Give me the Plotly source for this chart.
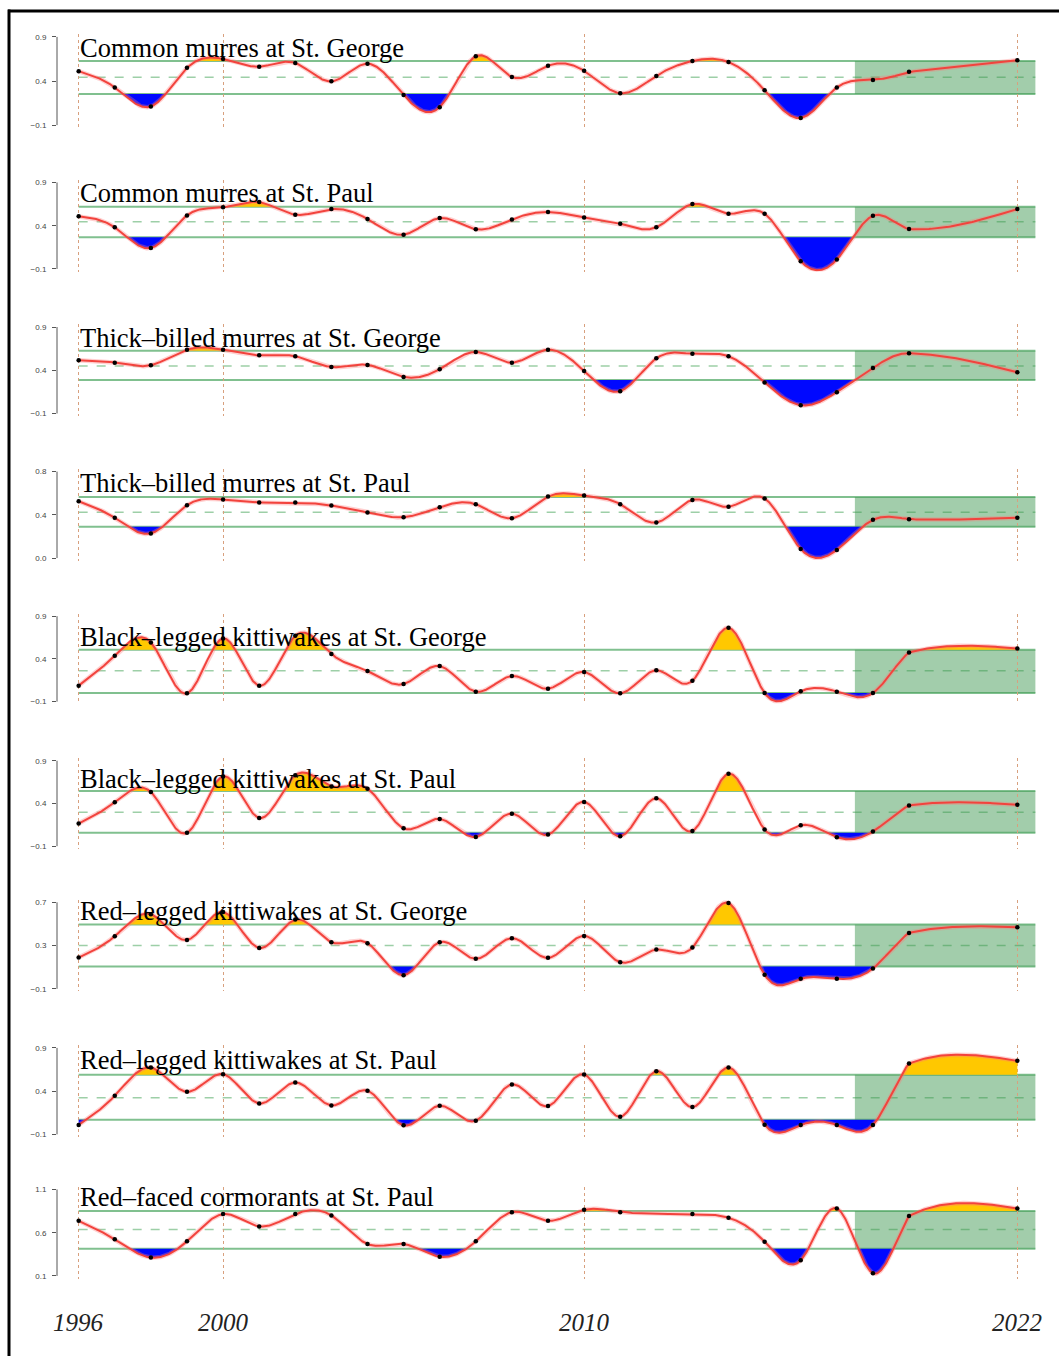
import numpy as np
import plotly.graph_objects as go

# ---------------------------------------------------------------- data
YEARS = [1996, 1997, 1998, 1999, 2000, 2001, 2002, 2003, 2004, 2005, 2006, 2007,
         2008, 2009, 2010, 2011, 2012, 2013, 2014, 2015, 2016, 2017, 2018, 2019, 2022]

TITLES = [
    "Common murres at St. George",
    "Common murres at St. Paul",
    "Thick\u2013billed murres at St. George",
    "Thick\u2013billed murres at St. Paul",
    "Black\u2013legged kittiwakes at St. George",
    "Black\u2013legged kittiwakes at St. Paul",
    "Red\u2013legged kittiwakes at St. George",
    "Red\u2013legged kittiwakes at St. Paul",
    "Red\u2013faced cormorants at St. Paul",
]

COMU_STG = [0.512, 0.327, 0.112, 0.550, 0.650, 0.562, 0.604, 0.396, 0.596, 0.242, 0.104, 0.681,
            0.446, 0.573, 0.515, 0.262, 0.458, 0.627, 0.615, 0.296, -0.019, 0.327, 0.412, 0.504, 0.635]
COMU_STP = [0.508, 0.381, 0.142, 0.519, 0.612, 0.673, 0.527, 0.592, 0.477, 0.296, 0.488, 0.358,
            0.473, 0.558, 0.496, 0.423, 0.381, 0.650, 0.538, 0.538, -0.012, 0.008, 0.515, 0.362, 0.592]
TBMU_STG = [0.515, 0.488, 0.458, 0.638, 0.638, 0.573, 0.562, 0.438, 0.462, 0.323, 0.412, 0.612,
            0.488, 0.638, 0.392, 0.158, 0.538, 0.592, 0.562, 0.258, -0.004, 0.146, 0.427, 0.596, 0.377]
TBMU_STP = [0.526, 0.372, 0.228, 0.489, 0.542, 0.514, 0.514, 0.486, 0.422, 0.378, 0.471, 0.498,
            0.369, 0.569, 0.578, 0.498, 0.329, 0.538, 0.474, 0.551, 0.083, 0.074, 0.354, 0.360, 0.372]
BLKI_STG = [0.087, 0.437, 0.593, -0.003, 0.639, 0.087, 0.670, 0.456, 0.258, 0.106, 0.316, 0.017,
            0.200, 0.052, 0.246, -0.003, 0.266, 0.145, 0.764, 0.001, 0.021, 0.017, 0.001, 0.476, 0.523]
BLKI_STP = [0.165, 0.414, 0.534, 0.056, 0.717, 0.231, 0.730, 0.600, 0.573, 0.110, 0.219, 0.009,
            0.281, 0.036, 0.418, 0.017, 0.460, 0.079, 0.748, 0.095, 0.145, 0.005, 0.071, 0.375, 0.386]
RLKI_STG = [0.189, 0.386, 0.590, 0.352, 0.610, 0.278, 0.540, 0.331, 0.322, 0.026, 0.331, 0.177,
            0.368, 0.186, 0.389, 0.146, 0.263, 0.282, 0.694, 0.029, -0.008, -0.008, 0.088, 0.417, 0.469]
RLKI_STP = [0.008, 0.346, 0.673, 0.392, 0.596, 0.258, 0.500, 0.235, 0.404, 0.004, 0.231, 0.058,
            0.477, 0.227, 0.592, 0.104, 0.631, 0.215, 0.673, 0.012, 0.008, 0.008, 0.008, 0.719, 0.750]
RFCO_STP = [0.738, 0.523, 0.312, 0.500, 0.815, 0.673, 0.815, 0.800, 0.469, 0.469, 0.323, 0.500,
            0.838, 0.738, 0.865, 0.838, None, 0.815, 0.773, 0.496, 0.281, 0.881, 0.131, 0.792, 0.881]

SERIES = [COMU_STG, COMU_STP, TBMU_STG, TBMU_STP, BLKI_STG, BLKI_STP, RLKI_STG, RLKI_STP, RFCO_STP]

# long-term mean and the +/- band drawn as green reference lines
UPPER = [0.627, 0.619, 0.627, 0.566, 0.507, 0.546, 0.494, 0.588, 0.850]
MEAN = [0.442, 0.446, 0.450, 0.425, 0.262, 0.297, 0.300, 0.323, 0.638]
LOWER = [0.254, 0.265, 0.288, 0.289, 0.001, 0.056, 0.106, 0.069, 0.415]

# y-axis ticks (low, mid, high) and their labels
Y_TICKS = [(-0.1, 0.4, 0.9), (-0.1, 0.4, 0.9), (-0.1, 0.4, 0.9), (0.0, 0.4, 0.8),
           (-0.1, 0.4, 0.9), (-0.1, 0.4, 0.9), (-0.1, 0.3, 0.7), (-0.1, 0.4, 0.9),
           (0.1, 0.6, 1.1)]
Y_TICK_TEXT = [("\u22120.1", "0.4", "0.9"), ("\u22120.1", "0.4", "0.9"), ("\u22120.1", "0.4", "0.9"),
               ("0.0", "0.4", "0.8"), ("\u22120.1", "0.4", "0.9"), ("\u22120.1", "0.4", "0.9"),
               ("\u22120.1", "0.3", "0.7"), ("\u22120.1", "0.4", "0.9"), ("0.1", "0.6", "1.1")]

X_TICK_YEARS = [1996, 2000, 2010, 2022]
RECENT_START, RECENT_END = 2017.5, 2022.5

# ---------------------------------------------------------------- layout constants
W, H = 1059, 1356
ML, MR = 57, 20
X_RANGE = [1995.4, 2022.6]
AXIS_TOP_PX = [35, 181, 326, 471, 616, 761, 903, 1049, 1191]
AXIS_BOT_PX = [123.5, 267.7, 412.7, 557.7, 701.7, 846.7, 989.7, 1135.7, 1277.7]
TITLE_PX = [46.3, 191.7, 336.7, 482.8, 636.7, 778.8, 911.3, 1061.3, 1198.3]
YEAR_LABEL_PX = 1324
PAD = 0.03
STEPS = 60  # curve samples per survey step

RED = "#f2433d"
RED_HALO = "rgba(255,120,120,0.35)"
BLUE = "#0008ff"
GOLD = "#ffc800"
BAND_LINE = "#80c08f"
MEAN_LINE = "#9dcfa7"
RECENT_FILL = "rgba(60,150,80,0.48)"
GRID = "#d8a07e"


def natural_spline(x, y, xs):
    """Natural cubic spline through (x, y), evaluated at xs."""
    x = np.asarray(x, float)
    y = np.asarray(y, float)
    n = len(x)
    h = np.diff(x)
    A = np.zeros((n, n))
    r = np.zeros(n)
    A[0, 0] = A[-1, -1] = 1.0
    for i in range(1, n - 1):
        A[i, i - 1] = h[i - 1]
        A[i, i] = 2 * (h[i - 1] + h[i])
        A[i, i + 1] = h[i]
        r[i] = 6 * ((y[i + 1] - y[i]) / h[i] - (y[i] - y[i - 1]) / h[i - 1])
    M = np.linalg.solve(A, r)
    idx = np.clip(np.searchsorted(x, xs) - 1, 0, n - 2)
    x0, x1 = x[idx], x[idx + 1]
    hh = x1 - x0
    t0, t1 = x1 - xs, xs - x0
    return ((M[idx] * t0 ** 3 + M[idx + 1] * t1 ** 3) / (6 * hh)
            + (y[idx] / hh - M[idx] * hh / 6) * t0
            + (y[idx + 1] / hh - M[idx + 1] * hh / 6) * t1)


def smooth_curve(years, values):
    """Spline over the survey sequence, placed back on the calendar axis."""
    t = np.arange(len(years), dtype=float)
    ts = np.linspace(0, len(years) - 1, (len(years) - 1) * STEPS + 1)
    return np.interp(ts, t, years), natural_spline(t, values, ts)


def band_polygons(xd, yd, level, below):
    """Closed outlines of the parts of the curve beyond a reference level."""
    mask = yd < level if below else yd > level
    clipped = np.minimum(yd, level) if below else np.maximum(yd, level)
    px, py = [], []
    i, n = 0, len(yd)
    while i < n:
        if mask[i]:
            j = i
            while j + 1 < n and mask[j + 1]:
                j += 1
            a, b = max(i - 1, 0), min(j + 1, n - 1)
            seg_x = list(xd[a:b + 1])
            seg_y = list(clipped[a:b + 1])
            px += seg_x + seg_x[::-1] + [seg_x[0], None]
            py += seg_y + [level] * len(seg_x) + [seg_y[0], None]
            i = j + 1
        else:
            i += 1
    return px, py


fig = go.Figure()
layout = dict(
    width=W, height=H,
    margin=dict(l=ML, r=MR, t=0, b=0),
    paper_bgcolor="white", plot_bgcolor="white",
    showlegend=False,
)
shapes = []
annotations = []

for k, vals in enumerate(SERIES):
    n = k + 1
    xa, ya = f"x{n}", f"y{n}"
    xkey, ykey = ("xaxis" if n == 1 else f"xaxis{n}"), ("yaxis" if n == 1 else f"yaxis{n}")
    lo, mid, hi = Y_TICKS[k]
    span = hi - lo
    top_px, bot_px = AXIS_TOP_PX[k], AXIS_BOT_PX[k]
    dpx = bot_px - top_px
    dom = [1 - (bot_px + PAD * dpx) / H, 1 - (top_px - PAD * dpx) / H]

    layout[xkey] = dict(domain=[0, 1], anchor=ya, range=X_RANGE, showticklabels=False,
                        ticks="", showline=False, zeroline=False, showgrid=True,
                        tickmode="array", tickvals=X_TICK_YEARS, gridcolor=GRID,
                        griddash="dot", gridwidth=1.4)
    layout[ykey] = dict(domain=dom, anchor=xa, range=[lo - PAD * span, hi + PAD * span],
                        tickmode="array", tickvals=[lo, mid, hi], ticktext=list(Y_TICK_TEXT[k]),
                        ticks="outside", ticklen=4, tickwidth=1, tickcolor="#555",
                        ticklabelstandoff=4,
                        tickfont=dict(family="Liberation Sans", size=8, color="#444"),
                        showgrid=False, zeroline=False, showline=False)

    # axis bracket between the outer ticks
    shapes.append(dict(type="line", xref="paper", yref=ya, x0=0, x1=0, y0=lo, y1=hi,
                       line=dict(color="#555", width=1)))

    up, mn, lw = UPPER[k], MEAN[k], LOWER[k]
    for yv in (up, lw):
        shapes.append(dict(type="line", xref=xa, yref=ya, x0=1996, x1=RECENT_END, y0=yv, y1=yv,
                           line=dict(color=BAND_LINE, width=2), layer="below"))
    shapes.append(dict(type="line", xref=xa, yref=ya, x0=1996, x1=RECENT_END, y0=mn, y1=mn,
                       line=dict(color=MEAN_LINE, width=1.5, dash="dash"), layer="below"))
    shapes.append(dict(type="rect", xref=xa, yref=ya, x0=RECENT_START, x1=RECENT_END,
                       y0=lw, y1=up, fillcolor=RECENT_FILL, line=dict(width=0), layer="below"))

    px_ = [x for x, v in zip(YEARS, vals) if v is not None]
    py_ = [v for v in vals if v is not None]
    cx, cy = smooth_curve(px_, py_)

    bx, by = band_polygons(cx, cy, lw, below=True)
    if bx:
        fig.add_trace(go.Scatter(x=bx, y=by, mode="lines", line=dict(width=0), fill="toself",
                                 fillcolor=BLUE, xaxis=xa, yaxis=ya, hoverinfo="skip"))
    gx, gy = band_polygons(cx, cy, up, below=False)
    if gx:
        fig.add_trace(go.Scatter(x=gx, y=gy, mode="lines", line=dict(width=0), fill="toself",
                                 fillcolor=GOLD, xaxis=xa, yaxis=ya, hoverinfo="skip"))
    fig.add_trace(go.Scatter(x=cx, y=cy, mode="lines", line=dict(color=RED_HALO, width=4.5),
                             xaxis=xa, yaxis=ya, hoverinfo="skip"))
    fig.add_trace(go.Scatter(x=cx, y=cy, mode="lines", line=dict(color=RED, width=2),
                             xaxis=xa, yaxis=ya, hoverinfo="skip"))
    fig.add_trace(go.Scatter(x=px_, y=py_, mode="markers", marker=dict(color="black", size=4.5),
                             xaxis=xa, yaxis=ya, cliponaxis=False))

    annotations.append(dict(text=TITLES[k], xref=xa, x=1996, xanchor="left",
                            yref="paper", y=1 - TITLE_PX[k] / H, yanchor="middle",
                            showarrow=False, borderpad=0,
                            font=dict(family="Liberation Serif", size=26.5, color="black")))

for yr in X_TICK_YEARS:
    annotations.append(dict(text=f"<i>{yr}</i>", xref="x9", x=yr, xanchor="center",
                            yref="paper", y=1 - YEAR_LABEL_PX / H, yanchor="middle",
                            showarrow=False,
                            font=dict(family="Liberation Serif", size=25, color="#222")))

# frame on the top and left
pw = W - ML - MR
shapes.append(dict(type="line", xref="paper", yref="paper", x0=(8 - ML) / pw, x1=(W + 5 - ML) / pw,
                   y0=1 - 9 / H, y1=1 - 9 / H, line=dict(color="black", width=3)))
shapes.append(dict(type="line", xref="paper", yref="paper", x0=(9 - ML) / pw, x1=(9 - ML) / pw,
                   y0=1 - 7.5 / H, y1=-0.01, line=dict(color="black", width=3)))

layout["shapes"] = shapes
layout["annotations"] = annotations
fig.update_layout(**layout)
fig.write_html("out.html")
